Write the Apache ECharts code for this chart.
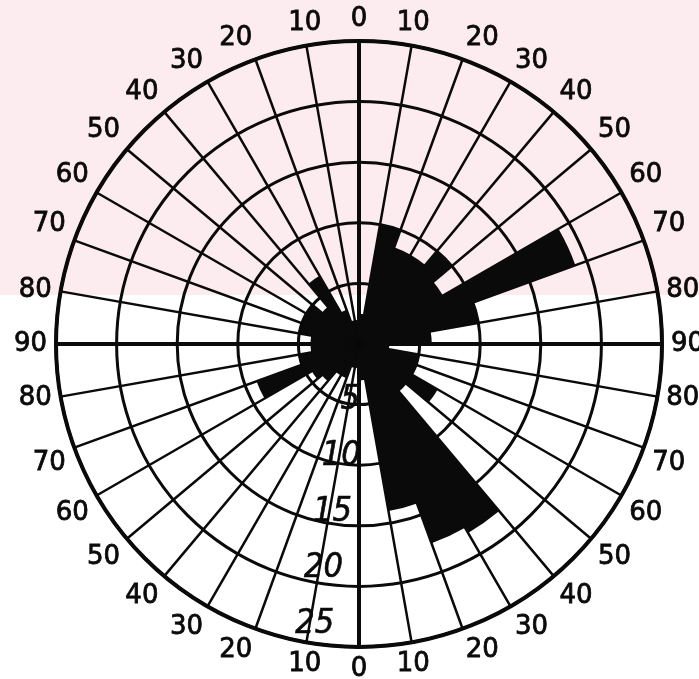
<!DOCTYPE html>
<html>
<head>
<meta charset="utf-8">
<script src="https://cdn.jsdelivr.net/npm/echarts@6/dist/echarts.min.js"></script>
<style>
  html, body { margin: 0; padding: 0; background: #ffffff; }
  #chart { width: 699px; height: 679px; }
</style>
</head>
<body>
<div id="chart"></div>
<script>
// 10-degree sectors, azimuth measured clockwise from north
const sectors = [
  '0-10','10-20','20-30','30-40','40-50','50-60','60-70','70-80','80-90',
  '90-100','100-110','110-120','120-130','130-140','140-150','150-160','160-170','170-180',
  '180-190','190-200','200-210','210-220','220-230','230-240','240-250','250-260','260-270',
  '270-280','280-290','290-300','300-310','310-320','320-330','330-340','340-350','350-360'
];
// frequency in each sector
const frequency = [
  2.5, 10, 8.5, 8.5, 10, 8, 19, 10, 6,
  2.5, 5, 5, 7.5, 5, 18, 17.5, 14, 3,
  2, 2, 3, 3, 4, 4.5, 9, 5, 4,
  4, 5, 5, 5, 4, 6.5, 3, 2, 2
];
// ring values on the radial scale
const ringTicks = [5, 10, 15, 20, 25];

// angle labels count 0..90 from north and from south on each side
function angleLabel(v) {
  if (v <= 90) return String(v);
  if (v <= 180) return String(180 - v);
  if (v <= 270) return String(v - 180);
  return String(360 - v);
}

const chart = echarts.init(document.getElementById('chart'), null, { renderer: 'canvas' });
const C = [359, 344];
const R = 303;
const ink = '#0a0a0a';

const hidden = {
  axisLine: { show: false }, axisTick: { show: false },
  axisLabel: { show: false }, splitLine: { show: false }
};

chart.setOption({
  backgroundColor: '#ffffff',
  animation: false,
  graphic: [
    { type: 'rect', z: -100, silent: true, shape: { x: 0, y: 0, width: 699, height: 295 },
      style: { fill: '#fdecef' } }
  ],
  polar: [
    { center: C, radius: R },
    { center: C, radius: R },
    { center: C, radius: R * 0.935 },
    { center: C, radius: R }
  ],
  angleAxis: [
    Object.assign({ polarIndex: 0, type: 'category', data: sectors, startAngle: 90,
      clockwise: true, boundaryGap: true }, hidden),
    {
      polarIndex: 1, type: 'value', min: 0, max: 360, interval: 10, startAngle: 90, clockwise: true,
      axisLine: { show: true, lineStyle: { color: ink, width: 4 } },
      axisTick: { show: false },
      axisLabel: {
        show: true, margin: 9, color: ink, fontSize: 26,
        fontFamily: 'DejaVu Sans', formatter: angleLabel,
        textBorderColor: ink, textBorderWidth: 0.8
      },
      splitLine: { show: true, lineStyle: { color: ink, width: 2.5 } },
      z: 1
    },
    Object.assign({ polarIndex: 2, type: 'value', min: 0, max: 360, startAngle: 261,
      clockwise: true }, hidden),
    {
      polarIndex: 3, type: 'value', min: 0, max: 360, interval: 90, startAngle: 90, clockwise: true,
      axisLine: { show: false }, axisTick: { show: false }, axisLabel: { show: false },
      splitLine: { show: true, lineStyle: { color: ink, width: 4 } },
      z: 1
    }
  ],
  radiusAxis: [
    Object.assign({ polarIndex: 0, type: 'value', min: 0, max: 25 }, hidden),
    {
      polarIndex: 1, type: 'value', min: 0, max: 25, interval: 5,
      axisLine: { show: false }, axisTick: { show: false }, axisLabel: { show: false },
      splitLine: { show: true, lineStyle: { color: ink, width: 3 } },
      z: 1
    },
    {
      polarIndex: 2, type: 'value', min: 0, max: 25, interval: 5,
      axisLine: { show: false }, axisTick: { show: false },
      axisLabel: {
        show: true, margin: 0, color: ink, fontSize: 34,
        fontFamily: '"Liberation Sans Narrow", "DejaVu Sans Condensed", "DejaVu Sans"',
        fontStyle: 'italic', verticalAlign: 'middle', align: 'center',
        textBorderColor: ink, textBorderWidth: 0.6,
        formatter: function (v) { return ringTicks.indexOf(v) >= 0 ? String(v) : ''; }
      },
      splitLine: { show: false },
      z: 5
    },
    Object.assign({ polarIndex: 3, type: 'value', min: 0, max: 25 }, hidden)
  ],
  series: [
    {
      type: 'bar', coordinateSystem: 'polar', polarIndex: 0,
      data: frequency, barCategoryGap: '0%', barGap: '0%',
      itemStyle: { color: ink },
      z: 3
    }
  ]
});
</script>
</body>
</html>
